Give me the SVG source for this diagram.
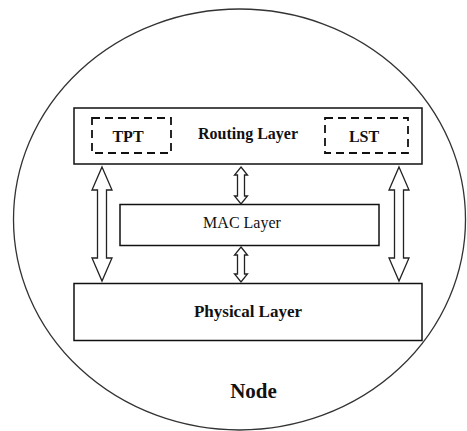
<svg xmlns="http://www.w3.org/2000/svg" width="467" height="431" viewBox="0 0 467 431">
<style>
.box{fill:#fff;stroke:#111;stroke-width:1.5}
.dash{fill:none;stroke:#111;stroke-width:1.8;stroke-dasharray:8 5}
.arr{fill:#fff;stroke:#222;stroke-width:1.3;stroke-linejoin:miter}
.t{font-family:"Liberation Serif","Times New Roman",serif;fill:#111;text-anchor:middle}
.b{font-weight:bold}
</style>
<rect width="467" height="431" fill="#fff"/>
<g id="node">
<ellipse cx="239.5" cy="219.5" rx="226" ry="210.5" fill="none" stroke="#333" stroke-width="1.3"/>
<text class="t b" x="253.5" y="398" font-size="21">Node</text>
</g>
<g id="routing">
<rect class="box" x="74" y="108" width="348" height="56"/>
<text class="t b" x="248" y="139" font-size="16">Routing Layer</text>
</g>
<g id="tpt">
<rect class="dash" x="92" y="118" width="79" height="35"/>
<text class="t b" x="128" y="142" font-size="16">TPT</text>
</g>
<g id="lst">
<rect class="dash" x="325" y="118" width="83" height="35"/>
<text class="t b" x="364" y="142" font-size="16">LST</text>
</g>
<g id="mac">
<rect class="box" x="120" y="204.5" width="259" height="41"/>
<text class="t" x="242" y="228" font-size="16">MAC Layer</text>
</g>
<g id="physical">
<rect class="box" x="74" y="283.5" width="348" height="57"/>
<text class="t b" x="248" y="317" font-size="17">Physical Layer</text>
</g>
<g id="connectors">
<polygon class="arr" points="102,167 112,190 106.5,190 106.5,258 112,258 102,281 92,258 97.5,258 97.5,190 92,190"/>
<polygon class="arr" points="399,167 409,190 403.5,190 403.5,258 409,258 399,281 389,258 394.5,258 394.5,190 389,190"/>
<polygon class="arr" points="241,167 247.5,175 244.5,175 244.5,196 247.5,196 241,204 234.5,196 237.5,196 237.5,175 234.5,175"/>
<polygon class="arr" points="241,247 247.5,255 244.5,255 244.5,274 247.5,274 241,282 234.5,274 237.5,274 237.5,255 234.5,255"/>
</g>
</svg>
